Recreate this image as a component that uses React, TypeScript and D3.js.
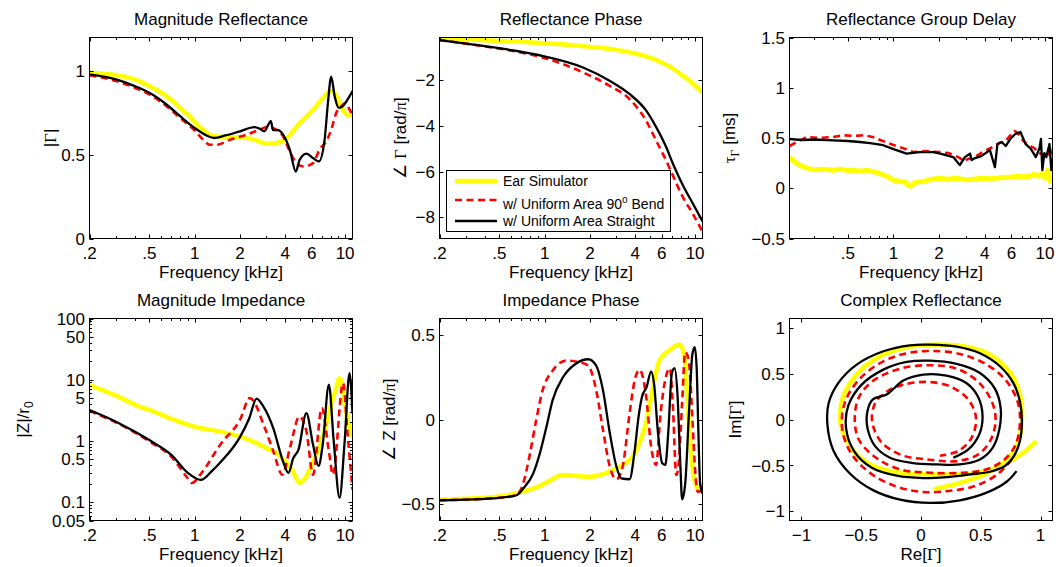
import React from 'react';
import * as d3 from 'd3';

const FONT = '"Liberation Sans", Arial, Helvetica, sans-serif';
const SERIF = '"Liberation Serif", "Times New Roman", serif';
const YELLOW = '#ffff00';
const RED = '#ff0000';
const BLACK = '#000000';

// ---------------- tick definitions ----------------
const freqTicks = [0.2, 0.5, 1, 2, 4, 6, 10];
const freqTickLabels = ['.2', '.5', '1', '2', '4', '6', '10'];
const freqMinor = [0.2, 0.3, 0.4, 0.6, 0.7, 0.8, 0.9, 3, 5, 7, 8, 9];

const magTicks = [0, 0.5, 1];
const magTickLabels = ['0', '0.5', '1'];
const phTicks = [-8, -6, -4, -2];
const phTickLabels = ['\u22128', '\u22126', '\u22124', '\u22122'];
const gdTicks = [-0.5, 0, 0.5, 1, 1.5];
const gdTickLabels = ['\u22120.5', '0', '0.5', '1', '1.5'];
const zTicks = [0.05, 0.1, 0.5, 1, 5, 10, 50, 100];
const zTickLabels = ['0.05', '0.1', '0.5', '1', '5', '10', '50', '100'];
const zMinor = [0.06, 0.07, 0.08, 0.09, 0.2, 0.3, 0.4, 0.6, 0.7, 0.8, 0.9, 2, 3, 4, 6, 7, 8, 9, 20, 30, 40, 60, 70, 80, 90];
const zpTicks = [-0.5, 0, 0.5];
const zpTickLabels = ['\u22120.5', '0', '0.5'];
const cxTicks = [-1, -0.5, 0, 0.5, 1];
const cxTickLabels = ['\u22121', '\u22120.5', '0', '0.5', '1'];

// ---------------- Magnitude Reflectance ----------------
const magFreqSim = [0.2, 0.3, 0.4, 0.5, 0.65, 0.8, 0.9, 1.1, 1.3, 1.6, 2, 2.5, 3, 3.5, 4, 4.5, 5, 6, 7, 8, 8.5, 9, 9.5, 10, 10.5, 11.2];
const magSim = [0.99, 0.975, 0.95, 0.91, 0.85, 0.78, 0.74, 0.66, 0.615, 0.605, 0.605, 0.59, 0.565, 0.57, 0.59, 0.64, 0.69, 0.76, 0.83, 0.88, 0.87, 0.83, 0.78, 0.75, 0.735, 0.75];
const magFreqStraight = [0.2, 0.3, 0.4, 0.5, 0.65, 0.8, 1.0, 1.2, 1.35, 1.6, 2, 2.5, 2.71, 2.9, 3.21, 3.32, 3.59, 3.87, 4.29, 4.7, 4.99, 5.53, 6.12, 6.7, 7.31, 7.69, 8.09, 8.52, 9.09, 9.66, 10.4, 11.2];
const magStraight = [0.98, 0.95, 0.91, 0.87, 0.8, 0.73, 0.66, 0.615, 0.6, 0.615, 0.64, 0.665, 0.655, 0.64, 0.7, 0.647, 0.647, 0.62, 0.53, 0.4, 0.47, 0.507, 0.48, 0.46, 0.59, 0.81, 0.966, 0.85, 0.78, 0.79, 0.83, 0.88];
const magFreqBend = [0.2, 0.3, 0.4, 0.5, 0.65, 0.8, 1.0, 1.14, 1.26, 1.4, 1.72, 2.2, 2.71, 3.0, 3.5, 3.87, 4.29, 4.75, 5.3, 6.12, 6.8, 7.5, 8.09, 8.74, 9.43, 10.1, 10.7, 11.2];
const magBend = [0.975, 0.94, 0.9, 0.86, 0.79, 0.72, 0.645, 0.59, 0.56, 0.56, 0.59, 0.62, 0.65, 0.665, 0.65, 0.61, 0.52, 0.45, 0.43, 0.45, 0.535, 0.58, 0.65, 0.75, 0.79, 0.81, 0.77, 0.74];

// ---------------- Reflectance Phase ----------------
const phFreqSim = [0.2, 0.3, 0.5, 0.7, 1, 1.5, 2, 3, 4, 5, 6, 7, 8, 9, 10, 11.2];
const phSim = [-0.15, -0.22, -0.29, -0.33, -0.39, -0.47, -0.55, -0.68, -0.84, -1.02, -1.23, -1.47, -1.74, -1.98, -2.25, -2.55];
const phFreqTube = [0.2, 0.39, 0.651, 0.977, 1.8, 2.7, 3.66, 4.72, 5.5, 6.41, 7.1, 8.26, 9.62, 11.2];
const phStraight = [-0.25, -0.51, -0.73, -0.95, -1.45, -2.03, -2.61, -3.33, -4.05, -4.92, -5.64, -6.58, -7.38, -8.18];
const phBend = [-0.25, -0.52, -0.76, -1.02, -1.67, -2.25, -2.83, -3.77, -4.64, -5.51, -6.16, -7.1, -7.83, -8.63];

// ---------------- Reflectance Group Delay ----------------
const gdFreqSim = [0.206, 0.22, 0.24, 0.268, 0.3, 0.35, 0.4, 0.45, 0.5, 0.55, 0.6, 0.667, 0.73, 0.815, 0.9, 0.995, 1.1, 1.2, 1.25, 1.3, 1.4, 1.49, 1.6, 1.8, 2.0, 2.3, 2.6, 3.0, 3.4, 3.8, 4.3, 4.8, 5.4, 6.0, 6.47, 7.2, 8.0, 8.33, 9.0, 9.5, 10.0, 10.4, 10.8, 11.2];
const gdSim = [0.31, 0.27, 0.23, 0.2, 0.185, 0.19, 0.18, 0.19, 0.175, 0.18, 0.17, 0.18, 0.165, 0.147, 0.12, 0.08, 0.07, 0.06, 0.03, 0.02, 0.06, 0.064, 0.07, 0.09, 0.1, 0.09, 0.1, 0.085, 0.09, 0.1, 0.095, 0.1, 0.11, 0.11, 0.12, 0.115, 0.12, 0.14, 0.12, 0.15, 0.1, 0.18, 0.07, 0.12];
const gdFreqStraight = [0.206, 0.25, 0.3, 0.4, 0.5, 0.6, 0.7, 0.855, 1.0, 1.22, 1.49, 1.83, 2.03, 2.48, 2.74, 2.96, 3.2, 3.28, 3.45, 3.8, 4.33, 4.67, 4.85, 5.18, 5.5, 5.89, 6.36, 6.88, 7.44, 8.04, 8.7, 9.2, 9.4, 9.6, 9.9, 10.2, 10.7, 11.0, 11.2];
const gdStraight = [0.49, 0.48, 0.485, 0.477, 0.47, 0.46, 0.45, 0.428, 0.39, 0.345, 0.36, 0.36, 0.345, 0.31, 0.23, 0.31, 0.345, 0.28, 0.3, 0.32, 0.38, 0.21, 0.44, 0.46, 0.42, 0.49, 0.54, 0.56, 0.44, 0.395, 0.31, 0.4, 0.49, 0.18, 0.35, 0.31, 0.44, 0.18, 0.3];
const gdFreqBend = [0.206, 0.23, 0.268, 0.32, 0.4, 0.468, 0.55, 0.63, 0.73, 0.85, 1.0, 1.1, 1.35, 1.6, 2.0, 2.3, 2.5, 2.75, 2.9, 3.1, 3.3, 3.6, 4.0, 4.5, 5.0, 5.5, 6.0, 6.3, 6.6, 7.2, 7.6, 8.0, 8.5, 9.0, 9.5, 10.0, 10.4, 10.7, 11.2];
const gdBend = [0.42, 0.46, 0.51, 0.5, 0.51, 0.527, 0.52, 0.527, 0.51, 0.47, 0.43, 0.41, 0.36, 0.37, 0.36, 0.35, 0.33, 0.3, 0.27, 0.29, 0.3, 0.33, 0.37, 0.41, 0.45, 0.47, 0.54, 0.57, 0.55, 0.47, 0.44, 0.42, 0.4, 0.35, 0.34, 0.3, 0.33, 0.42, 0.28];

// ---------------- Magnitude Impedance ----------------
const zFreqSim = [0.2, 0.3, 0.435, 0.5, 0.7, 1.0, 1.5, 2.0, 2.5, 3.0, 3.5, 4.0, 4.5, 4.98, 5.5, 6.0, 7.0, 8.0, 8.6, 9.19, 9.6, 10.0, 10.5, 11.2];
const zSim = [8.2, 5.5, 3.6, 3.2, 2.3, 1.7, 1.41, 1.17, 0.95, 0.76, 0.63, 0.46, 0.32, 0.206, 0.26, 0.41, 1.03, 3.6, 6.5, 10.6, 8.0, 3.6, 2.0, 1.18];
const zFreqStraight = [0.2, 0.3, 0.5, 0.7, 0.9, 1.1, 1.3, 1.5, 2.0, 2.3, 2.58, 2.86, 3.33, 3.87, 4.2, 4.52, 4.9, 5.53, 6.12, 6.66, 7.1, 7.8, 8.4, 9.19, 9.9, 10.7, 11.2];
const zStraight = [3.2, 2.06, 1.03, 0.59, 0.3, 0.23, 0.32, 0.46, 1.15, 2.3, 4.9, 3.67, 1.62, 0.46, 0.3, 0.52, 0.72, 2.85, 0.87, 0.39, 0.87, 8.3, 1.0, 0.117, 0.87, 12.8, 2.8];
const zFreqBend = [0.2, 0.3, 0.5, 0.7, 0.9, 0.96, 1.1, 1.5, 2.0, 2.33, 2.93, 3.33, 3.83, 4.3, 4.97, 5.53, 6.12, 7.0, 7.8, 8.3, 9.7, 10.4, 11.2];
const zBend = [3.1, 2.0, 0.98, 0.55, 0.245, 0.205, 0.29, 0.91, 2.2, 5.0, 1.62, 0.68, 0.28, 0.77, 2.5, 1.44, 0.28, 3.44, 0.68, 0.28, 8.8, 1.26, 0.16];

// ---------------- Impedance Phase ----------------
const zpFreqSim = [0.2, 0.5, 0.7, 0.9, 1.0, 1.33, 1.99, 2.71, 3.3, 3.85, 4.27, 4.73, 5.22, 5.79, 6.74, 7.85, 8.48, 8.9, 9.39, 9.86, 10.4, 11.2];
const zpSim = [-0.477, -0.458, -0.43, -0.4, -0.38, -0.33, -0.34, -0.31, -0.27, -0.22, -0.14, -0.02, 0.18, 0.35, 0.41, 0.445, 0.384, 0.108, -0.19, -0.35, -0.406, -0.39];
const zpFreqStraight = [0.2, 0.5, 0.65, 0.72, 0.84, 0.93, 1.03, 1.13, 1.33, 1.62, 1.95, 2.2, 2.44, 2.71, 3.0, 3.23, 3.67, 3.96, 4.2, 4.45, 4.75, 5.1, 5.36, 5.64, 6.05, 6.34, 6.65, 7.0, 7.3, 7.65, 7.97, 8.2, 8.6, 9.1, 9.6, 9.95, 10.25, 10.5, 10.8, 11.2];
const zpStraight = [-0.48, -0.465, -0.45, -0.41, -0.32, -0.2, -0.04, 0.115, 0.254, 0.333, 0.358, 0.32, 0.175, -0.08, -0.28, -0.35, -0.355, -0.19, 0.01, 0.14, 0.19, 0.285, 0.195, -0.06, -0.26, -0.27, -0.06, 0.274, 0.305, 0.135, -0.26, -0.475, -0.38, 0.037, 0.39, 0.43, 0.3, -0.05, -0.38, -0.44];
const zpFreqBend = [0.2, 0.5, 0.65, 0.72, 0.8, 0.88, 0.97, 1.13, 1.4, 1.7, 1.95, 2.2, 2.44, 2.71, 3.0, 3.3, 3.67, 3.97, 4.27, 4.73, 5.1, 5.5, 5.9, 6.4, 6.8, 7.1, 7.5, 7.8, 8.2, 8.6, 8.9, 9.2, 9.6, 10.0, 10.4, 11.2];
const zpBend = [-0.48, -0.465, -0.45, -0.38, -0.2, 0.0, 0.175, 0.29, 0.35, 0.34, 0.32, 0.175, -0.06, -0.28, -0.355, -0.28, 0.037, 0.234, 0.295, 0.135, -0.16, -0.27, 0.037, 0.254, 0.305, 0.1, -0.33, -0.25, 0.1, 0.4, 0.38, 0.3, 0.0, -0.3, -0.43, -0.42];

// ---------------- Complex Reflectance ----------------
const cxSimRe = [0.967, 0.855, 0.716, 0.58, 0.42, 0.25, 0.131, -0.064, -0.259, -0.454, -0.593, -0.671, -0.655, -0.538, -0.343, -0.12, 0.103, 0.354, 0.577, 0.749, 0.833, 0.841, 0.799, 0.725, 0.6, 0.45, 0.3, 0.187, 0.103];
const cxSimIm = [-0.236, -0.362, -0.475, -0.55, -0.59, -0.6, -0.598, -0.591, -0.562, -0.471, -0.29, -0.054, 0.236, 0.489, 0.688, 0.786, 0.815, 0.797, 0.707, 0.507, 0.243, -0.054, -0.29, -0.43, -0.55, -0.64, -0.7, -0.736, -0.761];
const cxBendRe = [0.758, 0.646, 0.451, 0.228, 0.019, -0.203, -0.421, -0.588, -0.66, -0.635, -0.51, -0.315, -0.12, 0.075, 0.326, 0.549, 0.716, 0.811, 0.827, 0.786, 0.688, 0.549, 0.354, 0.075, -0.175, -0.376, -0.521, -0.554, -0.518, -0.398, -0.175, 0.075, 0.298, 0.479, 0.591, 0.624, 0.585, 0.479, 0.298, 0.075, -0.162, -0.334, -0.409, -0.382, -0.281, -0.148, 0.047, 0.242, 0.396, 0.46, 0.423, 0.312, 0.159];
const cxBendIm = [-0.435, -0.591, -0.725, -0.779, -0.79, -0.732, -0.587, -0.362, -0.091, 0.192, 0.446, 0.634, 0.721, 0.746, 0.714, 0.598, 0.417, 0.181, -0.054, -0.29, -0.446, -0.543, -0.58, -0.58, -0.543, -0.417, -0.217, 0.018, 0.246, 0.424, 0.554, 0.591, 0.554, 0.409, 0.199, 0.0, -0.217, -0.38, -0.453, -0.438, -0.388, -0.243, -0.018, 0.181, 0.308, 0.38, 0.409, 0.362, 0.217, 0.018, -0.199, -0.344, -0.395];
const cxStraightRe = [0.799, 0.716, 0.549, 0.326, 0.075, -0.175, -0.398, -0.593, -0.733, -0.783, -0.772, -0.691, -0.538, -0.315, -0.092, 0.075, 0.298, 0.493, 0.66, 0.772, 0.827, 0.844, 0.827, 0.777, 0.702, 0.577, 0.409, 0.214, 0.019, -0.203, -0.412, -0.56, -0.627, -0.607, -0.496, -0.315, -0.12, 0.075, 0.298, 0.493, 0.618, 0.666, 0.655, 0.599, 0.493, 0.326, 0.131, -0.064, -0.259, -0.384, -0.448, -0.448, -0.404, -0.287, -0.237, -0.148, 0.019, 0.214, 0.382, 0.479, 0.515, 0.487, 0.396, 0.27];
const cxStraightIm = [-0.562, -0.678, -0.797, -0.88, -0.909, -0.873, -0.772, -0.591, -0.337, -0.054, 0.181, 0.399, 0.598, 0.743, 0.808, 0.815, 0.793, 0.721, 0.58, 0.399, 0.199, -0.018, -0.236, -0.399, -0.507, -0.569, -0.598, -0.627, -0.638, -0.612, -0.525, -0.344, -0.091, 0.156, 0.38, 0.543, 0.627, 0.641, 0.605, 0.507, 0.337, 0.127, -0.109, -0.308, -0.435, -0.489, -0.489, -0.475, -0.417, -0.29, -0.091, 0.091, 0.217, 0.272, 0.326, 0.424, 0.489, 0.478, 0.395, 0.243, 0.036, -0.163, -0.326, -0.417];

// ---------------- layout ----------------
const COL1: [number, number] = [89.5, 352.5];
const COL2: [number, number] = [439.5, 702.5];
const COL3: [number, number] = [789.5, 1052.5];
const ROW1: [number, number] = [37.5, 238.5];
const ROW2: [number, number] = [318.5, 520.5];
const FS = 17;
const MAJOR = 4;
const MINOR = 2.5;

type Kind = 'sim' | 'bend' | 'straight';
interface LineDef { xs: number[]; ys: number[]; kind: Kind }

const lineStyle = (k: Kind, simWidth: number) => {
  if (k === 'sim') return { stroke: YELLOW, strokeWidth: simWidth };
  if (k === 'bend') return { stroke: RED, strokeWidth: 2.6, strokeDasharray: '7 4.5' };
  return { stroke: BLACK, strokeWidth: 2.3 };
};

interface PanelProps {
  id: string;
  cols: [number, number];
  rows: [number, number];
  x: any;
  y: any;
  xTicks: number[];
  xTickLabels: string[];
  xMinor: number[];
  yTicks: number[];
  yTickLabels: string[];
  yMinor: number[];
  lines: LineDef[];
  curve: any;
  title: string;
  xLabel: React.ReactNode;
  yLabel: React.ReactNode;
  yLabelX: number;
  simWidth?: number;
  children?: React.ReactNode;
}

function Panel(p: PanelProps) {
  const [l, r] = p.cols;
  const [t, b] = p.rows;
  const xIn = (v: number) => { const px = p.x(v); return px >= l - 0.6 && px <= r + 0.6; };
  const yIn = (v: number) => { const py = p.y(v); return py >= t - 0.6 && py <= b + 0.6; };
  const path = (ln: LineDef) =>
    d3.line<number>()
      .x((_, i) => p.x(ln.xs[i]))
      .y((_, i) => p.y(ln.ys[i]))
      .curve(p.curve)(ln.xs) || '';
  return (
    <g>
      <defs>
        <clipPath id={p.id}>
          <rect x={l} y={t} width={r - l} height={b - t} />
        </clipPath>
      </defs>
      <g clipPath={`url(#${p.id})`}>
        {p.lines.map((ln, i) => (
          <path key={i} d={path(ln)} fill="none" strokeLinejoin="round" strokeLinecap="butt"
            {...lineStyle(ln.kind, p.simWidth ?? 4.5)} />
        ))}
      </g>
      <rect x={l} y={t} width={r - l} height={b - t} fill="none" stroke="#000" strokeWidth={1} />
      {/* x ticks */}
      {p.xTicks.filter(xIn).map((v, i) => {
        const px = Math.round(p.x(v)) + 0.5;
        return (
          <g key={'xt' + i}>
            <line x1={px} x2={px} y1={b} y2={b - MAJOR} stroke="#000" />
            <line x1={px} x2={px} y1={t} y2={t + MAJOR} stroke="#000" />
          </g>
        );
      })}
      {p.xMinor.filter(xIn).map((v, i) => {
        const px = Math.round(p.x(v)) + 0.5;
        return (
          <g key={'xm' + i}>
            <line x1={px} x2={px} y1={b} y2={b - MINOR} stroke="#000" />
            <line x1={px} x2={px} y1={t} y2={t + MINOR} stroke="#000" />
          </g>
        );
      })}
      {p.xTicks.map((v, i) => xIn(v) ? (
        <text key={'xl' + i} x={p.x(v)} y={b + 20} textAnchor="middle" fontSize={FS}>{p.xTickLabels[i]}</text>
      ) : null)}
      {/* y ticks */}
      {p.yTicks.filter(yIn).map((v, i) => {
        const py = Math.round(p.y(v)) + 0.5;
        return (
          <g key={'yt' + i}>
            <line x1={l} x2={l + MAJOR} y1={py} y2={py} stroke="#000" />
            <line x1={r} x2={r - MAJOR} y1={py} y2={py} stroke="#000" />
          </g>
        );
      })}
      {p.yMinor.filter(yIn).map((v, i) => {
        const py = Math.round(p.y(v)) + 0.5;
        return (
          <g key={'ym' + i}>
            <line x1={l} x2={l + MINOR} y1={py} y2={py} stroke="#000" />
            <line x1={r} x2={r - MINOR} y1={py} y2={py} stroke="#000" />
          </g>
        );
      })}
      {p.yTicks.map((v, i) => yIn(v) ? (
        <text key={'yl' + i} x={l - 4.5} y={p.y(v)} dy="0.36em" textAnchor="end" fontSize={FS}>{p.yTickLabels[i]}</text>
      ) : null)}
      {/* title & labels */}
      <text x={(l + r) / 2} y={t - 13} textAnchor="middle" fontSize={FS}>{p.title}</text>
      <text x={(l + r) / 2} y={b + 39.5} textAnchor="middle" fontSize={FS}>{p.xLabel}</text>
      <text transform={`translate(${p.yLabelX},${(t + b) / 2}) rotate(-90)`} textAnchor="middle" fontSize={FS}>{p.yLabel}</text>
      {p.children}
    </g>
  );
}

const G = (s: string) => <tspan fontFamily={SERIF}>{s}</tspan>;

export default function App() {
  const xF1 = d3.scaleLog().domain([0.2, 11.2]).range(COL1);
  const xF2 = d3.scaleLog().domain([0.2, 11.2]).range(COL2);
  const xF3 = d3.scaleLog().domain([0.206, 11.2]).range(COL3);
  const yMag = d3.scaleLinear().domain([0, 1.2]).range([ROW1[1], ROW1[0]]);
  const yPh = d3.scaleLinear().domain([-8.93, -0.14]).range([ROW1[1], ROW1[0]]);
  const yGd = d3.scaleLinear().domain([-0.5, 1.5]).range([ROW1[1], ROW1[0]]);
  const yZ = d3.scaleLog().domain([0.05, 100]).range([ROW2[1], ROW2[0]]);
  const yZp = d3.scaleLinear().domain([-0.6, 0.6]).range([ROW2[1], ROW2[0]]);
  const xCx = d3.scaleLinear().domain([-1.1, 1.1]).range(COL3);
  const yCx = d3.scaleLinear().domain([-1.1, 1.1]).range([ROW2[1], ROW2[0]]);

  const smooth = d3.curveMonotoneX;
  const freqLabel = 'Frequency [kHz]';

  return (
    <svg width={1058} height={567} viewBox="0 0 1058 567" fontFamily={FONT}
      style={{ position: 'absolute', left: 0, top: 0, display: 'block', background: '#fff' }}>
      <rect x={0} y={0} width={1058} height={567} fill="#fff" />

      <Panel id="p1" cols={COL1} rows={ROW1} x={xF1} y={yMag}
        xTicks={freqTicks} xTickLabels={freqTickLabels} xMinor={freqMinor}
        yTicks={magTicks} yTickLabels={magTickLabels} yMinor={[]}
        curve={smooth} title="Magnitude Reflectance" xLabel={freqLabel}
        yLabel={<>|{G('\u0393')}|</>} yLabelX={56}
        lines={[
          { xs: magFreqSim, ys: magSim, kind: 'sim' },
          { xs: magFreqBend, ys: magBend, kind: 'bend' },
          { xs: magFreqStraight, ys: magStraight, kind: 'straight' },
        ]} />

      <Panel id="p2" cols={COL2} rows={ROW1} x={xF2} y={yPh}
        xTicks={freqTicks} xTickLabels={freqTickLabels} xMinor={freqMinor}
        yTicks={phTicks} yTickLabels={phTickLabels} yMinor={[]}
        curve={smooth} title="Reflectance Phase" xLabel={freqLabel}
        yLabel={<>{'\u2220 '}{G('\u0393')} [rad/{G('\u03c0')}]</>} yLabelX={406}
        lines={[
          { xs: phFreqSim, ys: phSim, kind: 'sim' },
          { xs: phFreqTube, ys: phBend, kind: 'bend' },
          { xs: phFreqTube, ys: phStraight, kind: 'straight' },
        ]}>
        <g>
          <rect x={446.5} y={170.5} width={224} height={61} fill="#fff" stroke="#000" strokeWidth={1} />
          <line x1={455} x2={497} y1={181} y2={181} stroke={YELLOW} strokeWidth={4.5} />
          <line x1={455} x2={497} y1={200} y2={200} stroke={RED} strokeWidth={2.6} strokeDasharray="7 4.5" />
          <line x1={455} x2={497} y1={221} y2={221} stroke={BLACK} strokeWidth={2.3} />
          <text x={503} y={186} fontSize={14}>Ear Simulator</text>
          <text x={503} y={208.5} fontSize={14}>w/ Uniform Area 90<tspan fontSize={10} dy={-6}>o</tspan><tspan dy={6}> Bend</tspan></text>
          <text x={503} y={226} fontSize={14}>w/ Uniform Area Straight</text>
        </g>
      </Panel>

      <Panel id="p3" cols={COL3} rows={ROW1} x={xF3} y={yGd}
        xTicks={freqTicks} xTickLabels={freqTickLabels} xMinor={freqMinor}
        yTicks={gdTicks} yTickLabels={gdTickLabels} yMinor={[]}
        curve={d3.curveLinear} title="Reflectance Group Delay" xLabel={freqLabel}
        yLabel={<>{G('\u03c4')}<tspan fontSize={12} dy={4}>{G('\u0393')}</tspan><tspan dy={-4}> [ms]</tspan></>} yLabelX={735}
        simWidth={5}
        lines={[
          { xs: gdFreqSim, ys: gdSim, kind: 'sim' },
          { xs: gdFreqBend, ys: gdBend, kind: 'bend' },
          { xs: gdFreqStraight, ys: gdStraight, kind: 'straight' },
        ]} />

      <Panel id="p4" cols={COL1} rows={ROW2} x={xF1.copy()} y={yZ}
        xTicks={freqTicks} xTickLabels={freqTickLabels} xMinor={freqMinor}
        yTicks={zTicks} yTickLabels={zTickLabels} yMinor={zMinor}
        curve={smooth} title="Magnitude Impedance" xLabel={freqLabel}
        yLabel={<>|Z|/r<tspan fontSize={12} dy={4}>0</tspan></>} yLabelX={29}
        lines={[
          { xs: zFreqSim, ys: zSim, kind: 'sim' },
          { xs: zFreqBend, ys: zBend, kind: 'bend' },
          { xs: zFreqStraight, ys: zStraight, kind: 'straight' },
        ]} />

      <Panel id="p5" cols={COL2} rows={ROW2} x={xF2.copy()} y={yZp}
        xTicks={freqTicks} xTickLabels={freqTickLabels} xMinor={freqMinor}
        yTicks={zpTicks} yTickLabels={zpTickLabels} yMinor={[]}
        curve={smooth} title="Impedance Phase" xLabel={freqLabel}
        yLabel={<>{'\u2220 '}Z [rad/{G('\u03c0')}]</>} yLabelX={395}
        lines={[
          { xs: zpFreqSim, ys: zpSim, kind: 'sim' },
          { xs: zpFreqBend, ys: zpBend, kind: 'bend' },
          { xs: zpFreqStraight, ys: zpStraight, kind: 'straight' },
        ]} />

      <Panel id="p6" cols={COL3} rows={ROW2} x={xCx} y={yCx}
        xTicks={cxTicks} xTickLabels={cxTickLabels} xMinor={[]}
        yTicks={cxTicks} yTickLabels={cxTickLabels} yMinor={[]}
        curve={d3.curveCatmullRom.alpha(0.5)} title="Complex Reflectance"
        xLabel={<>Re[{G('\u0393')}]</>}
        yLabel={<>Im[{G('\u0393')}]</>} yLabelX={741}
        lines={[
          { xs: cxSimRe, ys: cxSimIm, kind: 'sim' },
          { xs: cxBendRe, ys: cxBendIm, kind: 'bend' },
          { xs: cxStraightRe, ys: cxStraightIm, kind: 'straight' },
        ]} />
    </svg>
  );
}
